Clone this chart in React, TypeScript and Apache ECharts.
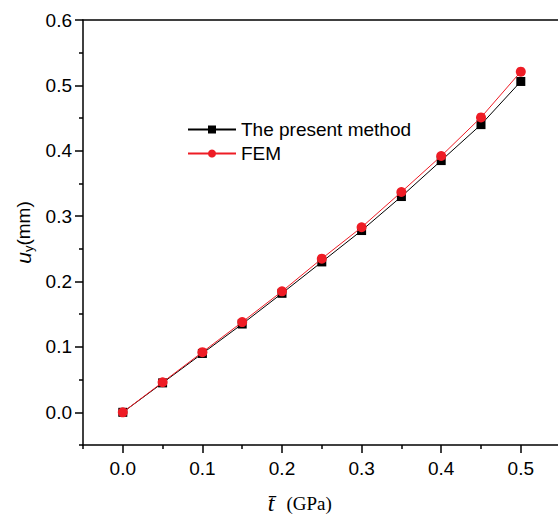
import React, { useEffect, useRef } from "react";
import * as echarts from "echarts";

const tValues = [0, 0.05, 0.1, 0.15, 0.2, 0.25, 0.3, 0.35, 0.4, 0.45, 0.5];
const presentMethod = [0, 0.045, 0.09, 0.135, 0.182, 0.23, 0.278, 0.33, 0.385, 0.44, 0.506];
const femValues = [0, 0.046, 0.092, 0.138, 0.185, 0.235, 0.283, 0.337, 0.392, 0.451, 0.521];
const xMajor = [0, 0.1, 0.2, 0.3, 0.4, 0.5];
const xMinor = [-0.05, 0.05, 0.15, 0.25, 0.35, 0.45, 0.55];
const yMajor = [0, 0.1, 0.2, 0.3, 0.4, 0.5, 0.6];
const yMinor = [-0.05, 0.05, 0.15, 0.25, 0.35, 0.45, 0.55];

const FONT = "Liberation Sans, Arial, sans-serif";
const SERIF = "Liberation Serif, Times New Roman, serif";

export default function App() {
  const ref = useRef<HTMLDivElement>(null);
  useEffect(() => {
    if (!ref.current) return;
    const chart = echarts.init(ref.current, undefined, { renderer: "svg" });
    const axisLineStyle = { color: "#000", width: 1.5 };
    const xBase = {
      type: "value" as const,
      min: -0.05,
      max: 0.55,
      splitLine: { show: false },
    };
    const yBase = {
      type: "value" as const,
      min: -0.05,
      max: 0.6,
      splitLine: { show: false },
    };
    chart.setOption({
      animation: false,
      grid: { left: 83, top: 20, width: 477.6, height: 425, containLabel: false, outerBoundsMode: "none" },
      legend: {
        left: 182,
        top: 115,
        orient: "vertical",
        itemWidth: 48,
        itemHeight: 10,
        itemGap: 5,
        textStyle: { fontFamily: FONT, fontSize: 19, color: "#000", padding: [0, 0, 0, 0] },
        data: ["The present method", "FEM"],
      },
      xAxis: [
        {
          ...xBase,
          position: "bottom",
          axisLine: { show: true, onZero: false, lineStyle: axisLineStyle },
          axisTick: { show: true, inside: false, length: 8, lineStyle: axisLineStyle, customValues: xMajor },
          axisLabel: {
            show: true,
            customValues: xMajor,
            formatter: (v: number) => v.toFixed(1),
            fontFamily: FONT,
            fontSize: 19,
            color: "#000",
            margin: 14,
          },
          name: "{i|t̄}{n|(GPa)}",
          nameLocation: "middle",
          nameGap: 46,
          nameTextStyle: {
            rich: {
              i: { fontFamily: SERIF, fontStyle: "italic", fontSize: 24, color: "#000" },
              n: { fontFamily: SERIF, fontSize: 19, color: "#000", padding: [0, 44, 0, 12] },
            },
          },
        },
        {
          ...xBase,
          position: "bottom",
          axisLine: { show: false, onZero: false },
          axisTick: { show: true, inside: false, length: 4, lineStyle: axisLineStyle, customValues: xMinor },
          axisLabel: { show: false },
        },
        {
          ...xBase,
          position: "top",
          axisLine: { show: true, onZero: false, lineStyle: axisLineStyle },
          axisTick: { show: false },
          axisLabel: { show: false },
        },
      ],
      yAxis: [
        {
          ...yBase,
          position: "left",
          axisLine: { show: true, onZero: false, lineStyle: axisLineStyle },
          axisTick: { show: true, inside: false, length: 8, lineStyle: axisLineStyle, customValues: yMajor },
          axisLabel: {
            show: true,
            customValues: yMajor,
            formatter: (v: number) => v.toFixed(1),
            fontFamily: FONT,
            fontSize: 19,
            color: "#000",
            margin: 11,
          },
          name: "{i|u}{s|y}{n|(mm)}",
          nameLocation: "middle",
          nameGap: 38,
          nameRotate: 90,
          nameTextStyle: {
            rich: {
              i: { fontFamily: FONT, fontStyle: "italic", fontSize: 21, color: "#000" },
              s: { fontFamily: FONT, fontSize: 13, color: "#000", verticalAlign: "bottom", padding: [10, 0, 0, 0] },
              n: { fontFamily: FONT, fontSize: 19, color: "#000" },
            },
          },
        },
        {
          ...yBase,
          position: "left",
          axisLine: { show: false, onZero: false },
          axisTick: { show: true, inside: false, length: 4, lineStyle: axisLineStyle, customValues: yMinor },
          axisLabel: { show: false },
        },
      ],
      series: [
        {
          name: "The present method",
          type: "line",
          xAxisIndex: 0,
          yAxisIndex: 0,
          data: tValues.map((t, i) => [t, presentMethod[i]]),
          symbol: "rect",
          symbolSize: 9,
          itemStyle: { color: "#000" },
          lineStyle: { color: "#000", width: 1 },
          z: 2,
        },
        {
          name: "FEM",
          type: "line",
          xAxisIndex: 0,
          yAxisIndex: 0,
          data: tValues.map((t, i) => [t, femValues[i]]),
          symbol: "circle",
          symbolSize: 10,
          itemStyle: { color: "#ee1c25" },
          lineStyle: { color: "#ee1c25", width: 1 },
          z: 3,
        },
      ],
    });
    return () => chart.dispose();
  }, []);
  return (
    <div
      ref={ref}
      style={{ position: "fixed", left: 0, top: 0, width: 558, height: 517, background: "#fff" }}
    />
  );
}
